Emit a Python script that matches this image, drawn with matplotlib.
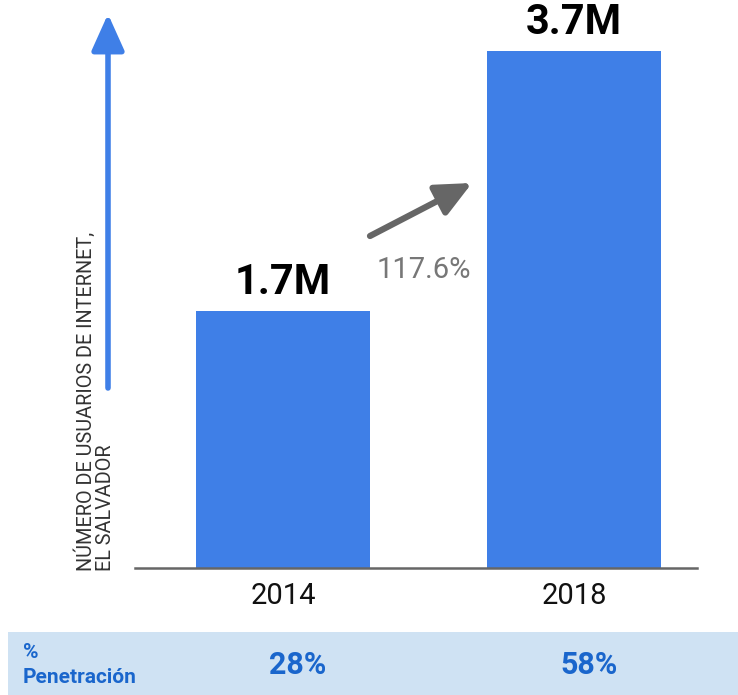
import matplotlib
matplotlib.use("Agg")
import matplotlib.pyplot as plt
from matplotlib.patches import Rectangle, FancyArrowPatch
import numpy as np

years = ["2014", "2018"]
users_m = [1.7, 3.7]
value_labels = ["1.7M", "3.7M"]
growth_label = "117.6%"
penetration = ["28%", "58%"]
ylabel = "NÚMERO DE USUARIOS DE INTERNET,\nEL SALVADOR"
row_label = "%\nPenetración"

FONT = ["Roboto", "DejaVu Sans"]
plt.rcParams["font.family"] = FONT

W, H = 738, 695
fig = plt.figure(figsize=(W / 100, H / 100), dpi=100)

def fx(px):
    return px / W

def fy(py):
    return 1 - py / H

# axes: x 135..697, y 0..568 px
ax = fig.add_axes([fx(135), fy(568), fx(697) - fx(135), fy(0) - fy(568)])
base = -0.277
ax.set_ylim(base, base + 568 / 130)
ax.set_xlim(-0.509, 1.423)

x = np.arange(len(years))
vals = np.array(users_m)
bar_color = "#3f7fe7"
ax.bar(x, vals - base, bottom=base, width=0.598, color=bar_color)

for xi, v, lab in zip(x, vals, value_labels):
    ax.text(xi, v + 0.06, lab, ha="center", va="bottom", fontsize=30,
            fontweight="bold", color="black")

for s in ["top", "right", "left"]:
    ax.spines[s].set_visible(False)
ax.spines["bottom"].set_color("#666666")
ax.spines["bottom"].set_linewidth(1.8)
ax.spines["bottom"].set_position(("data", base))
ax.set_yticks([])
ax.set_xticks(x)
ax.set_xticklabels(years, fontsize=21, color="#111111")
ax.tick_params(axis="x", length=0, pad=10)
ax.patch.set_alpha(0)

# growth arrow
arr = FancyArrowPatch((fx(370), fy(236)), (fx(472), fy(183)),
                      transform=fig.transFigure, arrowstyle="-|>,head_length=8.6,head_width=4",
                      mutation_scale=2.5, color="#666666", linewidth=4.5,
                      shrinkA=0, shrinkB=0)
fig.add_artist(arr)
fig.text(fx(424), fy(270), growth_label, ha="center", va="center",
         fontsize=21, color="#777777")

# vertical blue arrow + y label
varr = FancyArrowPatch((fx(108), fy(388)), (fx(108), fy(14)),
                       transform=fig.transFigure, arrowstyle="-|>,head_length=8.9,head_width=4",
                       mutation_scale=2.5, color="#3f7fe7", linewidth=4.0,
                       shrinkA=0, shrinkB=0)
fig.add_artist(varr)
fig.text(fx(95), fy(571), ylabel, rotation=90, ha="center", va="bottom",
         fontsize=14.3, color="#333333", multialignment="left", linespacing=1.0)

# penetration band
fig.patches.append(Rectangle((fx(8), 0), 1 - fx(8), fy(632), transform=fig.transFigure,
                             facecolor="#cfe2f3", edgecolor="none", zorder=0))
fig.text(fx(23), fy(665), row_label, ha="left", va="center", fontsize=15,
         fontweight="bold", color="#1a66cc", linespacing=1.4)
for xi, p in zip(x, penetration):
    xp = ax.transData.transform((xi, 0))[0]
    xfig = fig.transFigure.inverted().transform((xp, 0))[0]
    fig.text(xfig + fx(15), fy(665), p, ha="center", va="center", fontsize=22,
             fontweight="bold", color="#1a66cc")

fig.savefig("out.png", dpi=100)
